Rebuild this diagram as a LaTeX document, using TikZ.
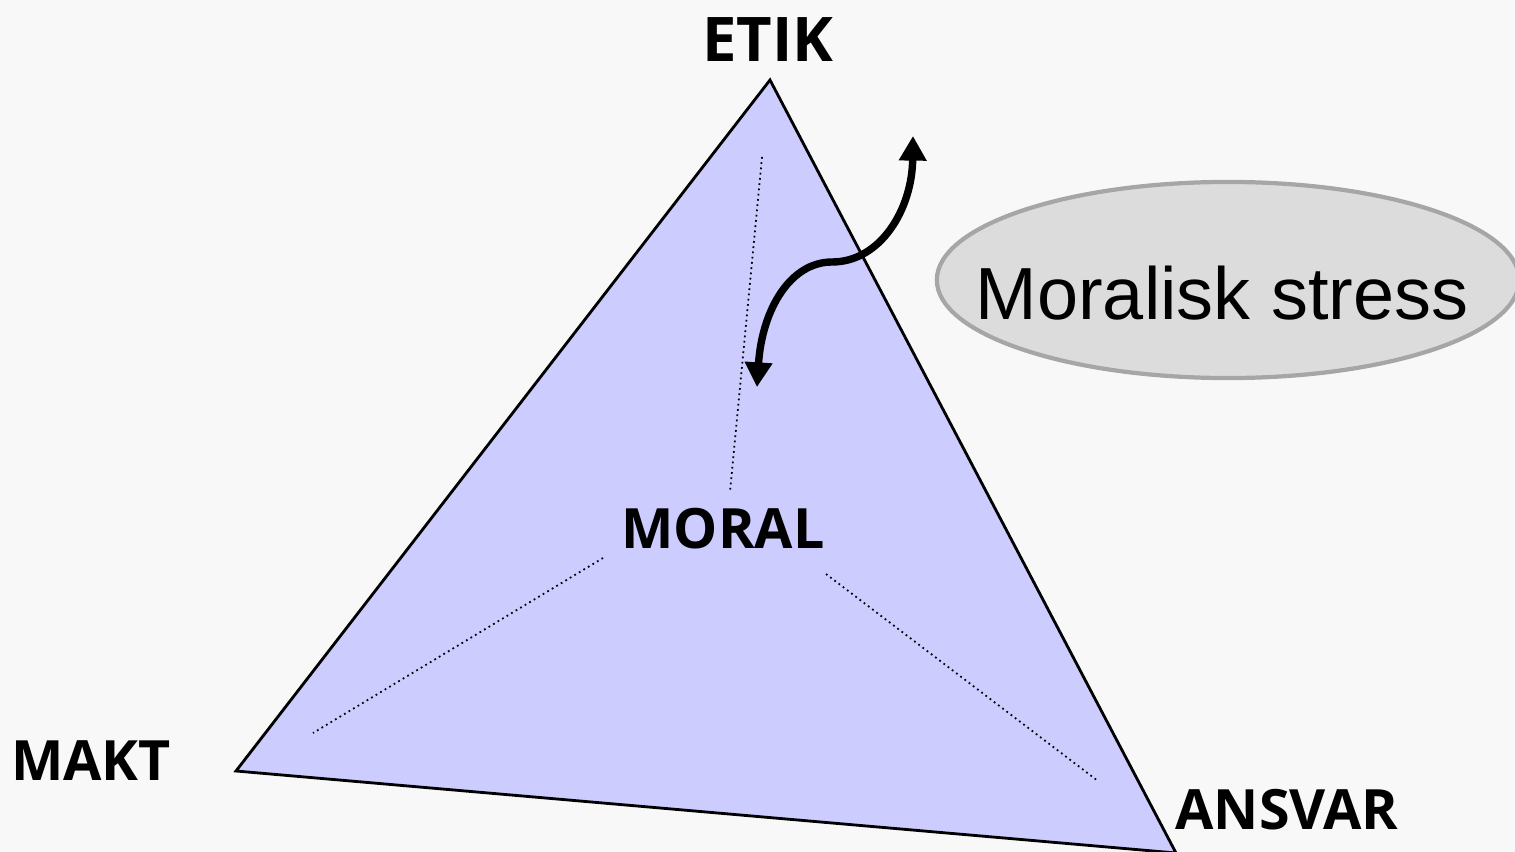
\documentclass[tikz,border=0pt]{standalone}
\usepackage{fontspec}
\setmainfont{Open Sans}
\newfontfamily\stressfont{Liberation Sans}
\usepackage{tikz}
\usetikzlibrary{arrows.meta}
\usetikzlibrary{shapes.geometric}
\definecolor{bgcol}{HTML}{F8F8F8}
\definecolor{trifill}{HTML}{CCCCFF}
\definecolor{ellfill}{HTML}{DCDCDC}
\definecolor{elldraw}{HTML}{A6A6A6}
\tikzset{
corner/.style={font=\fontsize{15.8}{18}\selectfont\bfseries,anchor=base,inner sep=0pt},
guide/.style={densely dotted,line width=0.5pt},
stressell/.style={ellipse,draw=elldraw,fill=ellfill,line width=1.2pt,minimum width=5.82cm,minimum height=1.96cm}
}

\begin{document}
\begin{tikzpicture}[x=0.01cm,y=-0.01cm]
\fill[bgcol] (0,0) rectangle (1515,852);
\useasboundingbox (0,0) rectangle (1515,852);
\coordinate (top) at (770,80);
\coordinate (left) at (236,771);
\coordinate (right) at (1176,853);
\draw[fill=trifill,line width=0.8pt,line join=miter] (top) -- (left) -- (right) -- cycle;
\node[corner,font=\fontsize{17.5}{19}\selectfont\bfseries] (etik) at (768,62) {ETIK};
\node[corner] (makt) at (91,780) {MAKT};
\node[corner] (ansvar) at (1287,829) {ANSVAR};
\node[corner] (moral) at (723,548) {MORAL};
\draw[guide] (762,157) -- (730,492);
\draw[guide] (603,558) -- (313,733);
\draw[guide] (826,574) -- (1098,781);
\node[stressell] (stress) at (1228,280) {};
\node[font=\fontsize{21}{24}\selectfont\stressfont,inner sep=0pt,anchor=base] (stresstxt) at (1222,320) {Moralisk stress};
\coordinate (lowtip) at (757,387);
\coordinate (hightip) at (913,136);
\draw[line width=2.1pt,{Triangle[width=7.5pt,length=7pt]}-{Triangle[width=7.5pt,length=7pt]}] (lowtip) .. controls (762,310) and (790,262) .. (832,262) .. controls (880,262) and (912,210) .. (hightip);
\end{tikzpicture}
\end{document}
